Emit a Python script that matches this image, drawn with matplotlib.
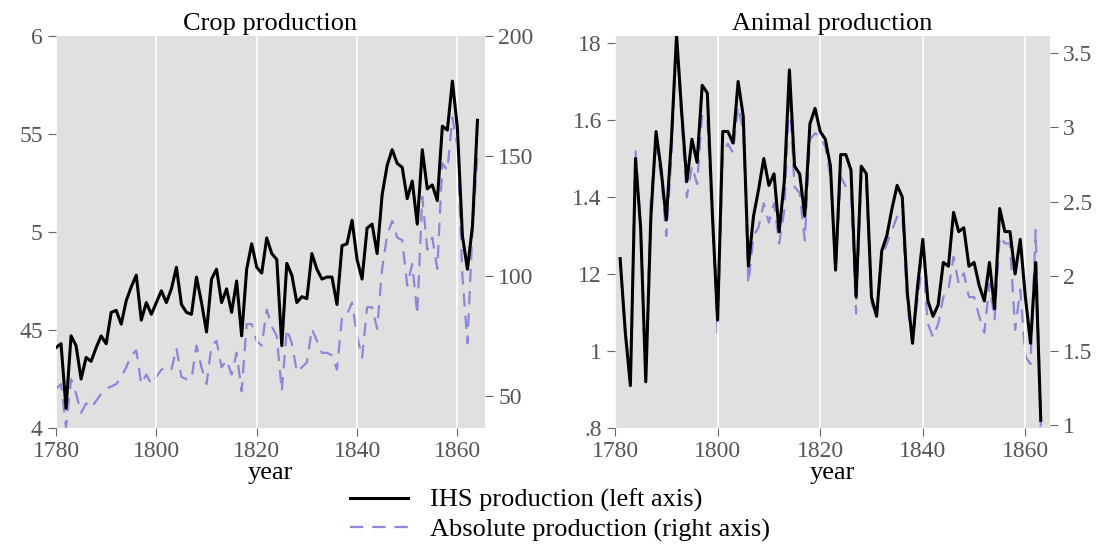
import matplotlib
matplotlib.use("Agg")
import matplotlib.pyplot as plt
from matplotlib.lines import Line2D

years_crop = list(range(1780, 1865))
crop_ihs = [4.41,4.43,4.10,4.47,4.42,4.25,4.36,4.34,4.41,4.47,4.43,4.59,4.60,4.53,4.65,4.72,4.78,4.55,4.64,4.58,
            4.64,4.70,4.64,4.71,4.82,4.63,4.59,4.58,4.77,4.64,4.49,4.76,4.81,4.64,4.71,4.59,4.75,4.47,4.81,4.94,
            4.82,4.79,4.97,4.89,4.86,4.42,4.84,4.78,4.64,4.67,4.66,4.89,4.81,4.76,4.77,4.77,4.63,4.93,4.94,5.06,
            4.86,4.76,5.02,5.04,4.89,5.19,5.34,5.42,5.35,5.33,5.17,5.26,5.04,5.42,5.22,5.24,5.16,5.54,5.52,5.77,
            5.53,4.98,4.81,5.03,5.57]
crop_abs = [53,55,37,57,51,43,47,45,48,51,53,54,55,58,62,67,69,55,59,55,
            58,61,62,61,70,58,57,57,71,62,55,71,73,62,65,59,68,52,80,80,
            73,71,86,79,75,52,78,72,60,62,64,78,73,68,68,67,61,83,84,89,
            75,66,87,87,78,103,117,123,116,115,96,105,84,133,111,116,103,147,144,166,
            154,100,72,119,150]

years_anim = list(range(1781, 1864))
anim_ihs = [1.24,1.05,0.91,1.50,1.32,0.92,1.35,1.57,1.47,1.34,1.55,1.82,1.62,1.44,1.55,1.49,1.69,1.67,1.35,1.08,
            1.57,1.57,1.54,1.70,1.61,1.22,1.35,1.42,1.50,1.43,1.46,1.31,1.44,1.73,1.48,1.46,1.35,1.59,1.63,1.57,
            1.55,1.48,1.21,1.51,1.51,1.47,1.14,1.48,1.46,1.14,1.09,1.26,1.30,1.37,1.43,1.40,1.15,1.02,1.17,1.29,
            1.13,1.09,1.12,1.23,1.22,1.36,1.31,1.32,1.22,1.23,1.17,1.13,1.23,1.11,1.37,1.31,1.31,1.20,1.29,1.14,
            1.02,1.23,0.82]
anim_abs = [2.09,1.62,1.28,2.85,2.31,1.37,2.53,2.89,2.67,2.27,2.80,3.59,3.03,2.53,2.74,2.62,3.09,3.05,2.36,1.62,
            2.83,2.89,2.83,3.14,2.98,1.95,2.27,2.33,2.49,2.36,2.49,2.22,2.44,3.23,2.60,2.56,2.24,2.92,2.96,2.94,
            2.87,2.67,2.04,2.67,2.60,2.56,1.75,2.67,2.60,1.82,1.73,2.11,2.22,2.31,2.40,2.41,1.80,1.55,1.86,2.09,
            1.68,1.59,1.68,1.86,1.91,2.13,1.95,2.02,1.86,1.86,1.73,1.62,1.95,1.71,2.27,2.22,2.22,1.64,1.91,1.46,
            1.41,2.31,0.99]

xticks = [1780, 1800, 1820, 1840, 1860]
crop_lt = [4, 4.5, 5, 5.5, 6]; crop_ltl = ["4", "45", "5", "55", "6"]
crop_rt = [50, 100, 150, 200]
anim_lt = [0.8, 1.0, 1.2, 1.4, 1.6, 1.8]; anim_ltl = [".8", "1", "12", "1.4", "1.6", "18"]
anim_rt = [1, 1.5, 2, 2.5, 3, 3.5]; anim_rtl = ["1", "1.5", "2", "2.5", "3", "3.5"]

plt.rcParams['font.family'] = ['Liberation Serif', 'DejaVu Serif']
W, H = 1102, 556
fig = plt.figure(figsize=(W/100, H/100), dpi=100)
gray = '#555555'
dash_col = '#8c87d6'

def style(ax):
    ax.set_facecolor('#e0e0e0')
    for s in ax.spines.values():
        s.set_visible(False)
    ax.tick_params(colors='#666666', labelcolor=gray, labelsize=17, length=6, direction='out')

def make(rect, yrs, ihs, ab, xlim, ylim, ylim2, lt, ltl, rt, rtl, title):
    ax = fig.add_axes(rect)
    style(ax)
    ax.set_xlim(*xlim)
    ax.set_xticks(xticks)
    ax.grid(axis='x', color='white', lw=1.2)
    ax.set_axisbelow(True)
    ax.set_ylim(*ylim)
    ax.set_yticks(lt); ax.set_yticklabels(ltl)
    ax2 = ax.twinx()
    for s in ax2.spines.values():
        s.set_visible(False)
    ax2.tick_params(colors='#666666', labelcolor=gray, labelsize=17, length=6, direction='out')
    ax2.plot(yrs, ab, color=dash_col, lw=1.6, dashes=(6, 4))
    ax2.set_ylim(*ylim2)
    ax2.set_yticks(rt); ax2.set_yticklabels(rtl)
    ax.set_zorder(ax2.get_zorder() + 1); ax.patch.set_visible(False)
    ax2.patch.set_visible(True); ax2.patch.set_facecolor('#e0e0e0')
    ax.plot(yrs, ihs, color='black', lw=2.2)
    ax.set_xlabel('year', fontsize=19, labelpad=0)
    ax.set_title(title, fontsize=19, pad=4)
    return ax

def r(x0, x1, y0, y1):
    return [x0/W, 1 - y1/H, (x1-x0)/W, (y1-y0)/H]

make(r(56, 485, 36, 428), years_crop, crop_ihs, crop_abs, (1780, 1865.5), (4, 6), (36.7, 200),
     crop_lt, crop_ltl, crop_rt, [str(v) for v in crop_rt], 'Crop production')
make(r(615, 1050, 36, 428), years_anim, anim_ihs, anim_abs, (1780, 1864.8), (0.8, 1.818), (0.98, 3.614),
     anim_lt, anim_ltl, anim_rt, anim_rtl, 'Animal production')

handles = [Line2D([], [], color='black', lw=2.2),
           Line2D([], [], color=dash_col, lw=1.6, dashes=(6, 4))]
fig.legend(handles, ['IHS production (left axis)', 'Absolute production (right axis)'],
           loc='center', bbox_to_anchor=(560/W, 1 - 515/H), frameon=False, fontsize=19,
           handlelength=2.2, labelspacing=0.2, borderpad=0)
fig.savefig('out.png', dpi=100)
